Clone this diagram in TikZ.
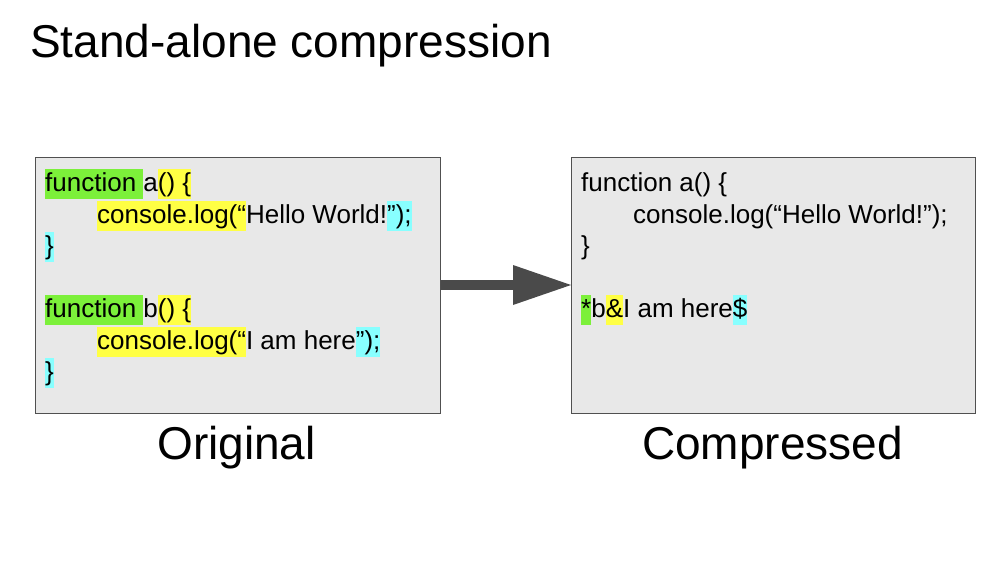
\documentclass[tikz,border=0pt]{standalone}
\usepackage{fontspec}
\setmainfont{Liberation Sans}
\usepackage{xcolor}
\definecolor{hlgreen}{HTML}{7CF03A}
\definecolor{hlyellow}{HTML}{FFFF44}
\definecolor{hlcyan}{HTML}{88FFFF}
\definecolor{boxfill}{HTML}{E8E8E8}
\definecolor{boxline}{HTML}{505050}
\definecolor{arrowgray}{HTML}{4A4A4A}
\newcommand{\hlstrut}{\rule[-0.31em]{0pt}{1.16em}}
\newcommand{\hlt}[2]{{\setlength{\fboxsep}{0pt}\colorbox{#1}{\hlstrut#2}}}
\begin{document}
\begin{tikzpicture}[x=1pt,y=-1pt,
  codebox/.style={draw=boxline,line width=1.3pt,fill=boxfill},
  codeline/.style={anchor=base west,inner sep=0pt,font=\fontsize{26}{30}\selectfont},
  caption/.style={anchor=base,inner sep=0pt,font=\fontsize{46}{55}\selectfont},
  ]
\useasboundingbox (0,0) rectangle (1000,562);
\fill[white] (0,0) rectangle (1000,562);
\node[anchor=base west,inner sep=0pt,font=\fontsize{46}{55}\selectfont] (title) at (30,57) {Stand-alone compression};
% boxes
\node[codebox,minimum width=405pt,minimum height=256pt,inner sep=0pt,anchor=north west] (orig) at (35,157) {};
\node[codebox,minimum width=404pt,minimum height=256pt,inner sep=0pt,anchor=north west] (comp) at (571,157) {};
% left code
\node[codeline] (l1) at (45,191) {\hlt{hlgreen}{function }a\hlt{hlyellow}{() \{}};
\node[codeline] (l2) at (97,223) {\hlt{hlyellow}{console.log(“}Hello World!\hlt{hlcyan}{”);}};
\node[codeline] (l3) at (45,254) {\hlt{hlcyan}{\}}};
\node[codeline] (l4) at (45,317) {\hlt{hlgreen}{function }b\hlt{hlyellow}{() \{}};
\node[codeline] (l5) at (97,349) {\hlt{hlyellow}{console.log(“}I am here\hlt{hlcyan}{”);}};
\node[codeline] (l6) at (45,380) {\hlt{hlcyan}{\}}};
% right code
\node[codeline] (r1) at (581,191) {\hlstrut function a() \{};
\node[codeline] (r2) at (633,223) {\hlstrut console.log(“Hello World!”);};
\node[codeline] (r3) at (581,254) {\hlstrut\}};
\node[codeline] (r4) at (581,317) {\hlt{hlgreen}{*}b\hlt{hlyellow}{\&}I am here\hlt{hlcyan}{\$}};
% captions
\node[caption] (capo) at (236.5,459) {Original};
\node[caption] (capc) at (772.5,459) {Compressed};
% arrow
\fill[arrowgray] (orig.east |- 0,280) rectangle (513,290);
\fill[arrowgray] (513,265) -- (comp.west |- 0,285) -- (513,305) -- cycle;
\end{tikzpicture}
\end{document}
